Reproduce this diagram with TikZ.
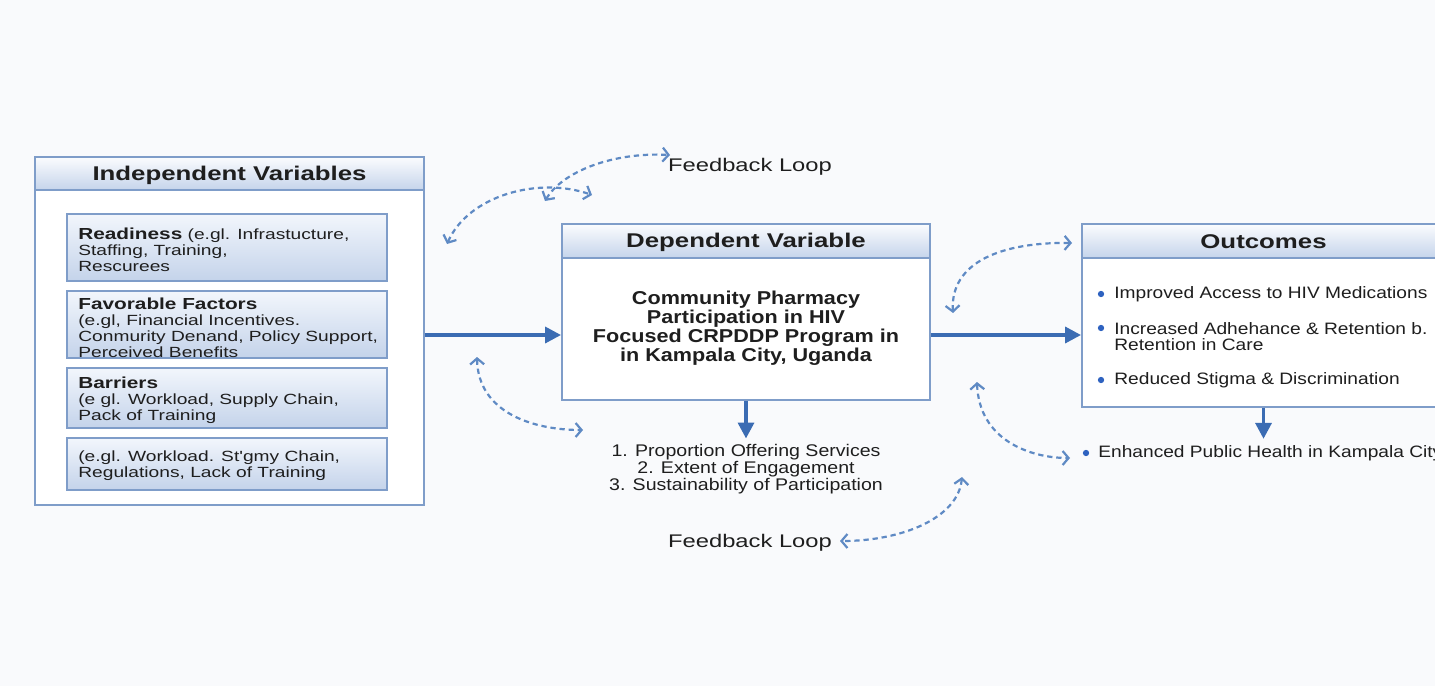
\documentclass[tikz,border=0pt]{standalone}
\usepackage{fontspec}
\setmainfont{Liberation Sans}[FakeStretch=1.16]
\newfontfamily\widefont{Liberation Sans}[FakeStretch=1.3]
\usetikzlibrary{arrows.meta,fit}

\definecolor{bgc}{HTML}{F9FAFC}
\definecolor{boxline}{HTML}{7F9DC9}
\definecolor{headtop}{HTML}{FBFCFE}
\definecolor{headbot}{HTML}{C5D4EB}
\definecolor{subtop}{HTML}{F2F6FC}
\definecolor{subbot}{HTML}{C4D3EA}
\definecolor{flowblue}{HTML}{3B6CB3}
\definecolor{loopblue}{HTML}{5F8AC4}
\definecolor{dotblue}{HTML}{2E62C0}
\definecolor{ink}{HTML}{1E1E1E}

\tikzset{
  panel/.style={draw=boxline, line width=1.1pt, fill=white, inner sep=0pt},
  headbar/.style={draw=boxline, line width=0.9pt, top color=headtop, bottom color=headbot, inner sep=0pt},
  subbox/.style={draw=boxline, line width=0.9pt, top color=subtop, bottom color=subbot, inner sep=0pt},
  headtxt/.style={font=\widefont\fontsize{11.3}{14}\selectfont\bfseries, text=ink, inner sep=0pt},
  subtxt/.style={font=\widefont\fontsize{8.4}{9.2}\selectfont, text=ink, align=left, inner sep=0pt, anchor=west},
  deptxt/.style={font=\fontsize{10.6}{10.8}\selectfont\bfseries, text=ink, align=center, inner sep=0pt},
  itemtxt/.style={font=\fontsize{9.4}{9.2}\selectfont, text=ink, align=left, inner sep=0pt, anchor=west},
  listtxt/.style={font=\fontsize{9.6}{9.7}\selectfont, text=ink, align=center, inner sep=0pt},
  fbtxt/.style={font=\widefont\fontsize{10.4}{12}\selectfont, text=ink, inner sep=0pt},
  dot/.style={circle, fill=dotblue, inner sep=0pt, minimum size=3.6pt},
  flow/.style={draw=flowblue, line width=2pt, -{Triangle[length=9pt,width=9pt]}},
  loop/.style={draw=loopblue, line width=1.25pt, dash pattern=on 3pt off 2.2pt,
    {Straight Barb[length=3.4pt,width=8pt]}-{Straight Barb[length=3.4pt,width=8pt]}},
}
\newcommand{\subhd}[1]{{\fontsize{9.1}{9.2}\selectfont\bfseries #1}}

\begin{document}
\begin{tikzpicture}[x=0.02cm, y=-0.02cm]
  \clip (0,0) rectangle (1435,686);
  \fill[bgc] (0,0) rectangle (1435,686);

  % ---- independent variables ----
  \node[panel, fit={(35,157)(424,505)}] (indep) {};
  \node[headbar, fit={(35,157)(424,190)}] (indepH) {};
  \node[headtxt] (indepT) at ([yshift=-1pt]indepH.center) {Independent Variables};

  \node[subbox, fit={(67,214)(387,281)}] (ready) {};
  \node[subtxt] (readyT) at (78,250)
    {\subhd{Readiness} (e.gl. Infrastucture,\\Staffing, Training,\\Rescurees};

  \node[subbox, fit={(67,291)(387,358)}] (favor) {};
  \node[subtxt] (favorT) at (78,328)
    {\subhd{Favorable Factors}\\(e.gl, Financial Incentives.\\Conmurity Denand, Policy Support,\\Perceived Benefits};

  \node[subbox, fit={(67,368)(387,428)}] (barr) {};
  \node[subtxt] (barrT) at (78,400)
    {\subhd{Barriers}\\(e gl. Workload, Supply Chain,\\Pack of Training};

  \node[subbox, fit={(67,438)(387,490)}] (extra) {};
  \node[subtxt] (extraT) at (78,466)
    {(e.gl. Workload. St'gmy Chain,\\Regulations, Lack of Training};

  % ---- dependent variable ----
  \node[panel, fit={(562,224)(930,400)}] (dep) {};
  \node[headbar, fit={(562,224)(930,258)}] (depH) {};
  \node[headtxt] (depT) at ([yshift=-0.5pt]depH.center) {Dependent Variable};
  \node[deptxt] (depB) at (746,328)
    {Community Pharmacy\\Participation in HIV\\Focused CRPDDP Program in\\in Kampala City, Uganda};

  \node[listtxt] (list) at (746,469)
    {1. Proportion Offering Services\\2. Extent of Engagement\\3. Sustainability of Participation};

  % ---- outcomes ----
  \node[panel, fit={(1082,224)(1445,407)}] (out) {};
  \node[headbar, fit={(1082,224)(1445,258)}] (outH) {};
  \node[headtxt] (outT) at ([yshift=-0.5pt]outH.center) {Outcomes};

  \node[dot] (b1) at (1101,294) {};
  \node[itemtxt] (o1) at (1114,294) {Improved Access to HIV Medications};
  \node[dot] (b2) at (1101,328) {};
  \node[itemtxt] (o2) at (1114,337) {Increased Adhehance \& Retention b.\\Retention in Care};
  \node[dot] (b3) at (1101,380) {};
  \node[itemtxt] (o3) at (1114,380) {Reduced Stigma \& Discrimination};

  \node[dot] (b4) at (1086,453) {};
  \node[itemtxt] (enh) at (1098,453) {Enhanced Public Health in Kampala City};

  % ---- feedback labels ----
  \node[fbtxt] (fbTop) at (750,167) {Feedback Loop};
  \node[fbtxt] (fbBot) at (750,543) {Feedback Loop};

  % ---- main flow ----
  \coordinate (midline) at (0,335);
  \draw[flow] (indep.east |- midline) -- (dep.west |- midline);
  \draw[flow] (dep.east |- midline) -- (out.west |- midline);
  \draw[flow] (dep.south) -- ([yshift=3pt]list.north);
  \draw[flow] (out.south) -- ([yshift=3.5pt]out.south |- enh.north);

  % ---- feedback loops ----
  \coordinate (la1) at (447,244);  \coordinate (la2) at (592,195);
  \coordinate (lb1) at (545,201);  \coordinate (lb2) at (670,155);
  \coordinate (lc1) at (477,357);  \coordinate (lc2) at (583,430);
  \coordinate (ld1) at (962,477);  \coordinate (ld2) at (840,541);
  \coordinate (le1) at (953,313);  \coordinate (le2) at (1072,243);
  \coordinate (lf1) at (977,382);  \coordinate (lf2) at (1070,458);

  \draw[loop] (la1) .. controls (468,196) and (538,176) .. (la2);
  \draw[loop] (lb1) .. controls (562,172) and (612,152) .. (lb2);
  \draw[loop] (lc1) .. controls (478,412) and (532,430) .. (lc2);
  \draw[loop] (ld1) .. controls (958,518) and (902,541) .. (ld2);
  \draw[loop] (le1) .. controls (950,262) and (1002,242) .. (le2);
  \draw[loop] (lf1) .. controls (979,440) and (1030,458) .. (lf2);
\end{tikzpicture}
\end{document}
